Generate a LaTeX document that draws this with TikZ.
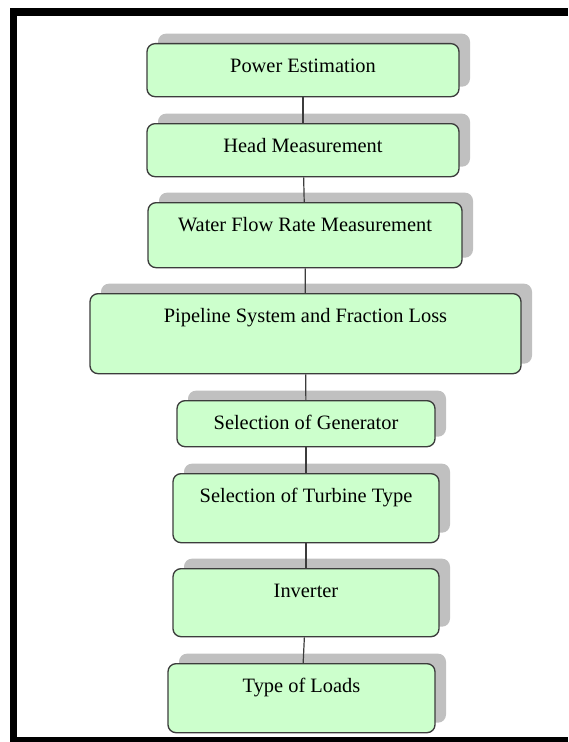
\documentclass[tikz,border=0pt]{standalone}
\usepackage{fontspec}
\setmainfont{Liberation Serif}
\usetikzlibrary{shadows}
\definecolor{boxfill}{RGB}{204,255,204}
\definecolor{boxline}{RGB}{60,60,60}
\definecolor{shadowgray}{RGB}{192,192,192}
\tikzset{
  bx/.style={draw=boxline, line width=1pt, fill=boxfill, rounded corners=6pt,
    anchor=north, inner ysep=0pt, inner xsep=2pt, text height=21.375pt, align=center,
    font=\fontsize{15.3}{18}\selectfont,
    general shadow={shadow xshift=8.25pt, shadow yshift=7.5pt, fill=shadowgray}},
  conn/.style={draw=boxline, line width=0.9pt}
}
\begin{document}
\begin{tikzpicture}[x=0.75pt,y=-0.75pt]
\useasboundingbox (0,0) rectangle (568,742);
% frame
\fill[black] (10,8) rectangle (17,742);
\fill[black] (10,8) rectangle (568,16);
\fill[black] (10,737) rectangle (568,742);
% boxes
\node[bx, minimum width=234pt, text depth=18.375pt] (b1) at (303,43) {Power Estimation};
\node[bx, minimum width=234pt, text depth=18.375pt] (b2) at (303,123) {Head Measurement};
\node[bx, minimum width=235.5pt, text depth=27.375pt] (b3) at (305,202) {Water Flow Rate Measurement};
\node[bx, minimum width=323.25pt, text depth=38.625pt] (b4) at (305.5,293) {Pipeline System and Fraction Loss};
\node[bx, minimum width=193.5pt, text depth=13.125pt] (b5) at (306,400) {Selection of Generator};
\node[bx, minimum width=199.5pt, text depth=30.375pt] (b6) at (306,473) {Selection of Turbine Type};
\node[bx, minimum width=199.5pt, text depth=29.625pt] (b7) at (306,568) {Inverter};
\node[bx, minimum width=200.25pt, text depth=30.375pt] (b8) at (301.5,663) {Type of Loads};
% connectors
\begin{scope}[on background layer/.style={}]
\draw[conn] (b1) -- (b2);
\draw[conn] (b2) -- (b3);
\draw[conn] (b3) -- (b4);
\draw[conn] (b4) -- (b5);
\draw[conn] (b5) -- (b6);
\draw[conn] (b6) -- (b7);
\draw[conn] (b7) -- (b8);
\end{scope}
\end{tikzpicture}
\end{document}
